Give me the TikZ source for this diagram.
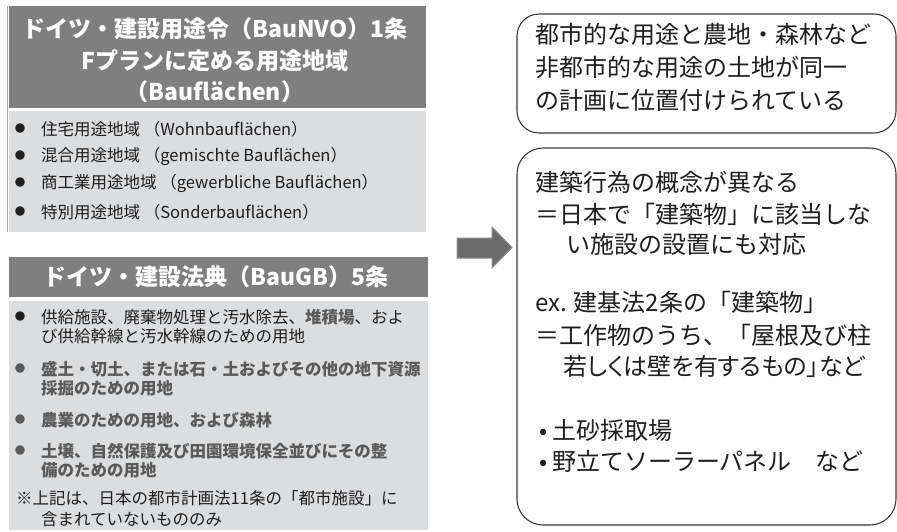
\documentclass[tikz,border=0pt]{standalone}
\usepackage{fontspec}
\setmainfont{Noto Sans CJK JP}
\definecolor{hdrgray}{HTML}{7F7F7F}
\definecolor{lstgray}{HTML}{DCDDDF}
\definecolor{txtdark}{HTML}{1E1E1E}
\definecolor{txtgray}{HTML}{5A5A5A}
\definecolor{boxline}{HTML}{3A3A3A}
\definecolor{arrowfill}{HTML}{6B6B6B}
\definecolor{arrowline}{HTML}{8E8E8E}
\newcommand{\pdot}{\makebox[17pt][c]{•}}
\begin{document}
\begin{tikzpicture}[x=1pt,y=-1pt,
  hdrbox/.style={fill=hdrgray,draw=none},
  lstbox/.style={fill=lstgray,draw=none},
  hdrtxt/.style={inner sep=0pt,text=white,font=\fontsize{23}{23}\selectfont\bfseries},
  itemtxt/.style={anchor=west,inner sep=0pt,text=txtdark,font=\fontsize{16.5}{16.5}\selectfont},
  graytxt/.style={anchor=west,inner sep=0pt,text=txtgray,font=\fontsize{16.5}{16.5}\selectfont\bfseries},
  bul/.style={inner sep=0pt,font=\fontsize{10.5}{10.5}\selectfont},
  boxtxt/.style={anchor=west,inner sep=0pt,text=txtdark,font=\fontsize{24}{24}\selectfont},
  rbox/.style={draw=boxline,line width=1.1pt,rounded corners=22pt},
  bigarrow/.style={fill=arrowfill,draw=arrowline,line width=1pt}]
\useasboundingbox (0,0) rectangle (897,531);

% left panel 1
\draw[hdrbox] (9,6) rectangle (426,108);
\draw[lstbox] (9,111) rectangle (426,232);
\draw[draw=black!35,line width=0.8pt] (7,6) -- (7,232);
\node[hdrtxt] (h1a) at (215,29) {ドイツ・建設用途令（BauNVO）1条};
\node[hdrtxt] (h1b) at (215,61) {Fプランに定める用途地域};
\node[hdrtxt] (h1c) at (215,92) {（Bauflächen）};

\node[bul,text=txtdark] (b1) at (20,129) {●};
\node[itemtxt] (i1) at (41,129) {住宅用途地域 （Wohnbauflächen）};
\node[bul,text=txtdark] (b2) at (20,156) {●};
\node[itemtxt] (i2) at (41,156) {混合用途地域 （gemischte Bauflächen）};
\node[bul,text=txtdark] (b3) at (20,183) {●};
\node[itemtxt] (i3) at (41,183) {商工業用途地域 （gewerbliche Bauflächen）};
\node[bul,text=txtdark] (b4) at (20,212) {●};
\node[itemtxt] (i4) at (41,212) {特別用途地域 （Sonderbauflächen）};

% left panel 2
\draw[hdrbox] (9,257) rectangle (428,297);
\draw[lstbox] (9,301) rectangle (428,530);
\node[hdrtxt] (h2) at (216,277) {ドイツ・建設法典（BauGB）5条};

\node[bul,text=txtdark] (c1) at (20,317) {●};
\node[itemtxt] (j1a) at (41,317) {供給施設、廃棄物処理と汚水除去、{\bfseries\color{txtgray}堆積場}、およ};
\node[itemtxt] (j1b) at (41,336) {び供給幹線と汚水幹線のための用地};
\node[bul,text=txtgray] (c2) at (20,369) {●};
\node[graytxt] (j2a) at (41,369) {盛土・切土、または石・土およびその他の地下資源};
\node[graytxt] (j2b) at (41,388) {採掘のための用地};
\node[bul,text=txtgray] (c3) at (20,420) {●};
\node[graytxt] (j3) at (41,420) {農業のための用地、および森林};
\node[bul,text=txtgray] (c4) at (20,451) {●};
\node[graytxt] (j4a) at (41,451) {土壌、自然保護及び田園環境保全並びにその整};
\node[graytxt] (j4b) at (41,470) {備のための用地};
\node[itemtxt] (n1) at (16,498) {※上記は、日本の都市計画法11条の「都市施設」に};
\node[itemtxt] (n2) at (41,519) {含まれていないもののみ};

% arrow
\draw[bigarrow] (457,238) -- (492,238) -- (492,227) -- (512,247.5) -- (492,268) -- (492,258) -- (457,258) -- cycle;

% right boxes
\draw[rbox] (517,14) rectangle (896,133);
\node[boxtxt] (r1) at (535,34) {都市的な用途と農地・森林など};
\node[boxtxt] (r2) at (535,67) {非都市的な用途の土地が同一};
\node[boxtxt] (r3) at (535,100) {の計画に位置付けられている};

\draw[rbox,rounded corners=26pt] (517,148) rectangle (896,525);
\node[boxtxt] (s1) at (535,182) {建築行為の概念が異なる};
\node[boxtxt] (s2) at (535,214) {＝日本で「建築物」に該当しな};
\node[boxtxt] (s3) at (566,244) {い施設の設置にも対応};
\node[boxtxt] (s4) at (535,302) {ex. 建基法2条の「建築物」};
\node[boxtxt] (s5) at (535,335) {＝工作物のうち、「屋根及び柱};
\node[boxtxt] (s6) at (563,366) {\addfontfeature{RawFeature=+palt}若しくは壁を有するもの」など};
\node[boxtxt] (s7) at (535,430) {\pdot 土砂採取場};
\node[boxtxt] (s8) at (535,461) {\pdot 野立てソーラーパネル　など};
\end{tikzpicture}
\end{document}
